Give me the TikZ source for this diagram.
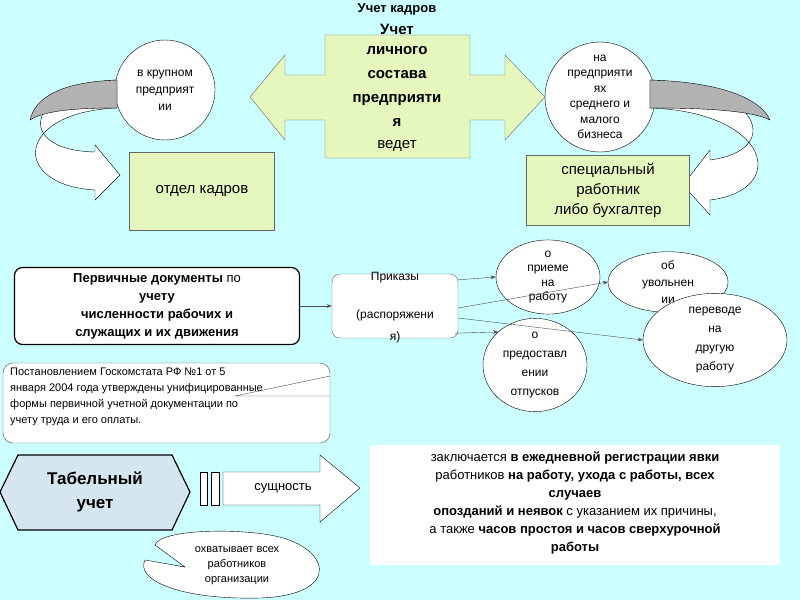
\documentclass[tikz,border=0pt]{standalone}
\usepackage{fontspec}
\setmainfont{Liberation Sans}
\usetikzlibrary{arrows.meta,shapes.geometric}
\definecolor{bg}{HTML}{CCFFFF}
\definecolor{grn}{HTML}{E6F7BE}
\definecolor{blu}{HTML}{D6E6F0}
\tikzset{
  every node/.style={font=\fontsize{13}{16}\selectfont, align=center, inner sep=0pt},
  gbox/.style={draw=black!60, fill=grn},
  circ/.style={draw=black, fill=white},
  ell/.style={draw=black, fill=white, ellipse},
  con/.style={draw=black!70, -{Stealth[length=5pt]}},
  small/.style={font=\fontsize{12}{14}\selectfont}
}
\begin{document}
\begin{tikzpicture}[x=1pt,y=-1pt]
\fill[bg] (0,0) rectangle (800,600);
\useasboundingbox (0,0) rectangle (800,600);
\node[font=\bfseries\fontsize{13}{15}\selectfont] (title) at (397,9) {Учет кадров};
% central double arrow
\filldraw[gbox] (250,97) -- (285,55) -- (285,75) -- (325,75) -- (325,35) -- (470,35) -- (470,75) -- (505,75) -- (505,55) -- (545,97) -- (505,140) -- (505,120) -- (470,120) -- (470,158) -- (325,158) -- (325,120) -- (285,120) -- (285,140) -- cycle;
\node[font=\bfseries\fontsize{15}{17}\selectfont] (center) at (397,29) {Учет};
\node[font=\bfseries\fontsize{15}{24}\selectfont] (center2) at (397,86) {личного\\состава\\предприяти\\я};
\node[font=\fontsize{15}{17}\selectfont] (vedet) at (397,146) {ведет};
% circles
\node[circ, circle, minimum size=100pt, small] (bigc) at (165,90) {в крупном\\[3pt]предприят\\[3pt]ии};
\node[circ, circle, minimum size=110pt, font=\fontsize{12}{15.5}\selectfont] (smallc) at (600,97) {на\\предприяти\\ях\\среднего и\\малого\\бизнеса};
% curved arrows
\filldraw[draw=black, fill=white] (117,80) .. controls (30,85) and (10,150) .. (95,152) -- (95,145) -- (120,175) -- (95,200) -- (95,190) .. controls (10,185) and (15,112) .. (117,108) -- cycle;
\filldraw[draw=black, fill=black!30] (117,80) .. controls (60,82) and (35,98) .. (30,120) .. controls (45,110) and (80,108) .. (117,108) -- cycle;
\filldraw[draw=black, fill=white] (650,80) .. controls (760,85) and (785,150) .. (710,160) -- (710,150) -- (683,185) -- (710,215) -- (710,200) .. controls (790,190) and (770,112) .. (650,108) -- cycle;
\filldraw[draw=black, fill=black!30] (650,80) .. controls (720,82) and (760,98) .. (770,120) .. controls (750,110) and (700,108) .. (650,108) -- cycle;
\node[gbox, draw, minimum width=145pt, minimum height=78pt, font=\fontsize{15}{18}\selectfont] (otdel) at (202,191) {отдел кадров};
\node[gbox, draw, minimum width=163pt, minimum height=70pt, font=\fontsize{15}{20}\selectfont] (spec) at (608,190) {специальный\\работник\\либо бухгалтер};
% row 2
\node[draw=black, very thick, rounded corners=8pt, fill=white, minimum width=285pt, minimum height=77pt, font=\fontsize{13}{18}\selectfont] (perv) at (157,306) {\textbf{Первичные документы} по\\\textbf{учету}\\\textbf{численности рабочих и}\\\textbf{служащих и их движения}};
\node[draw=black!60, rounded corners=8pt, fill=white, minimum width=126pt, minimum height=64pt] (prik) at (395,306) {};
\node[small] at (395,278) {Приказы};
\node[small] at (395,315) {(распоряжени};
\node[small] at (395,337) {я)};
\node[ell, minimum width=104pt, minimum height=66pt, font=\fontsize{12}{14.5}\selectfont] (e1) at (548,277) {о\\приеме\\на\\работу};
\node[ell, minimum width=120pt, minimum height=54pt, small] (e2) at (668,282) {об\\[3pt]увольнен\\[3pt]ии};
\node[ell, minimum width=144pt, minimum height=84pt, font=\fontsize{12}{19}\selectfont] (e3) at (715,340) {переводе\\на\\другую\\работу};
\node[ell, minimum width=104pt, minimum height=84pt, font=\fontsize{12}{19}\selectfont] (e4) at (535,365) {о\\предоставл\\ении\\отпусков};
\draw[con] (perv.east) -- (prik.west);
\draw[con] (prik.north east) ++(0,6) -- (e1.west);
\draw[con] ([yshift=-2pt]prik.east) -- (e2.west);
\draw[con] ([yshift=-12pt]prik.east) -- (e3.west);
\draw[con] (prik.south east) ++(-3,-5) -- (e4.north west);
% callout
\filldraw[draw=black!70, fill=white, rounded corners=10pt] (3,443) -- (3,363) -- (330,363) -- (330,443) -- cycle;
\draw[black!70] (330,376) -- (235,396) -- (330,396);
\node[font=\fontsize{11}{16}\selectfont, align=left, anchor=north west] (post) at (10,368) {Постановлением Госкомстата РФ №1 от 5\\января 2004 года утверждены унифицированные\\формы первичной учетной документации по\\учету труда и его оплаты.};
% row 3
\filldraw[draw=black, very thick, fill=blu] (18,455) -- (172,455) -- (190,492) -- (172,530) -- (18,530) -- (0,492) -- cycle;
\node[font=\bfseries\fontsize{17}{24}\selectfont] (tab) at (95,492) {Табельный\\учет};
\draw[fill=white] (200,472) rectangle (207,505);
\draw[fill=white] (211,472) rectangle (219,505);
\filldraw[draw=black, fill=white] (223,472) -- (320,472) -- (320,455) -- (360,488) -- (320,522) -- (320,505) -- (223,505) -- cycle;
\node (sush) at (283,488) {сущность};
\node[fill=white, minimum width=410pt, minimum height=120pt] (desc) at (575,505) {};
\node[font=\fontsize{13}{18}\selectfont] at (575,503) {заключается \textbf{в ежедневной регистрации явки}\\работников \textbf{на работу, ухода с работы, всех}\\\textbf{случаев}\\\textbf{опозданий и неявок} с указанием их причины,\\а также \textbf{часов простоя и часов сверхурочной}\\\textbf{работы}};
\filldraw[draw=black, fill=white] (155,545) .. controls (160,530) and (230,528) .. (270,535) .. controls (330,545) and (345,595) .. (260,598) .. controls (180,600) and (135,580) .. (145,560) -- (185,567) -- cycle;
\node[font=\fontsize{11}{15}\selectfont] (ohv) at (237,566) {охватывает всех\\работников\\организации};
\end{tikzpicture}
\end{document}
